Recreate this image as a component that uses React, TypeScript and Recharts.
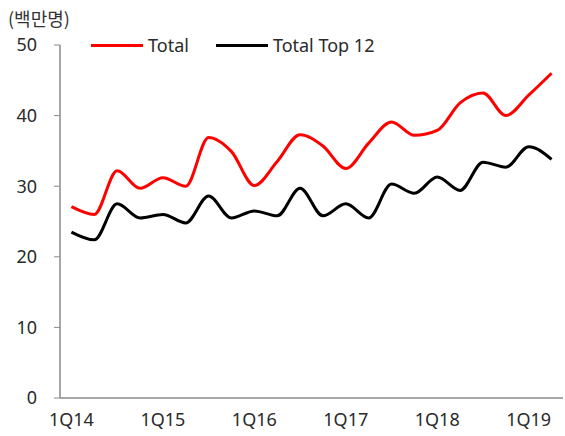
import { Line, LineChart, XAxis, YAxis } from 'recharts'

const quarters = [
  '1Q14', '2Q14', '3Q14', '4Q14',
  '1Q15', '2Q15', '3Q15', '4Q15',
  '1Q16', '2Q16', '3Q16', '4Q16',
  '1Q17', '2Q17', '3Q17', '4Q17',
  '1Q18', '2Q18', '3Q18', '4Q18',
  '1Q19', '2Q19',
]

const total = [
  27.1, 26.0, 32.2, 29.7, 31.2, 30.0, 36.9, 34.9, 30.1, 33.5, 37.3,
  35.7, 32.5, 36.1, 39.1, 37.2, 37.9, 41.8, 43.2, 40.0, 42.9, 46.0,
]

const totalTop12 = [
  23.5, 22.4, 27.5, 25.5, 26.0, 24.8, 28.6, 25.5, 26.5, 25.8, 29.7,
  25.8, 27.5, 25.5, 30.3, 29.0, 31.3, 29.4, 33.4, 32.7, 35.6, 33.8,
]

const xLabels = ['1Q14', '1Q15', '1Q16', '1Q17', '1Q18', '1Q19']
const yTicks = [0, 10, 20, 30, 40, 50]

const series = [
  { key: 'total', name: 'Total', color: '#ff0000' },
  { key: 'top12', name: 'Total Top 12', color: '#000000' },
]

const FONT = "'Noto Sans', 'Noto Sans CJK KR', sans-serif"
const AXIS = '#8a8a8a'
const TEXT = '#2a2a2a'

export default function App() {
  const data = quarters.map((q, i) => ({
    i,
    q,
    total: total[i],
    top12: totalTop12[i],
  }))
  const boundaries = quarters.map((_, i) => i - 0.5).concat(quarters.length - 0.5)
  const labelTicks = xLabels.map((l) => quarters.indexOf(l))
  const domain = [-0.5, quarters.length - 0.5]

  return (
    <div style={{ position: 'absolute', left: 0, top: 0, width: 565, height: 436, background: '#fff', fontFamily: FONT }}>
      <div style={{ position: 'absolute', left: 8, top: 5, fontSize: 18, fontWeight: 400, color: '#333', lineHeight: '26px', fontFamily: "'Noto Sans CJK KR', sans-serif" }}>
        (백만명)
      </div>
      <div style={{ position: 'absolute', left: 91, top: 33, display: 'flex', alignItems: 'center', height: 24, fontSize: 18, color: TEXT, zIndex: 2 }}>
        {series.map((s) => (
          <div key={s.key} style={{ display: 'flex', alignItems: 'center', marginRight: 27 }}>
            <span style={{ display: 'inline-block', width: 52, height: 3, background: s.color, marginRight: 5 }} />
            <span>{s.name}</span>
          </div>
        ))}
      </div>
      <LineChart
        width={565}
        height={436}
        data={data}
        margin={{ top: 45, right: 2, left: 0, bottom: 7 }}
        style={{ fontFamily: FONT }}
      >
        <XAxis
          xAxisId="b"
          type="number"
          dataKey="i"
          domain={domain}
          ticks={boundaries}
          tick={false}
          tickSize={5}
          height={1}
          axisLine={{ stroke: AXIS, strokeWidth: 1.5 }}
          tickLine={{ stroke: AXIS }}
          allowDataOverflow
        />
        <XAxis
          xAxisId="l"
          type="number"
          dataKey="i"
          domain={domain}
          ticks={labelTicks}
          tickFormatter={(v: number) => quarters[v] ?? ''}
          axisLine={false}
          tickLine={false}
          tickSize={0}
          tickMargin={14}
          height={30}
          interval={0}
          tick={{ fill: TEXT, fontSize: 18, fontFamily: FONT }}
          allowDataOverflow
        />
        <YAxis
          domain={[0, 50]}
          ticks={yTicks}
          width={60}
          tickSize={6}
          tickMargin={17}
          axisLine={{ stroke: AXIS, strokeWidth: 1.5 }}
          tickLine={{ stroke: AXIS }}
          tick={{ fill: TEXT, fontSize: 18, fontFamily: FONT }}
          interval={0}
        />
        {series.map((s) => (
          <Line
            key={s.key}
            xAxisId="l"
            type="monotone"
            dataKey={s.key}
            name={s.name}
            stroke={s.color}
            strokeWidth={3}
            dot={false}
            isAnimationActive={false}
          />
        ))}
      </LineChart>
    </div>
  )
}
